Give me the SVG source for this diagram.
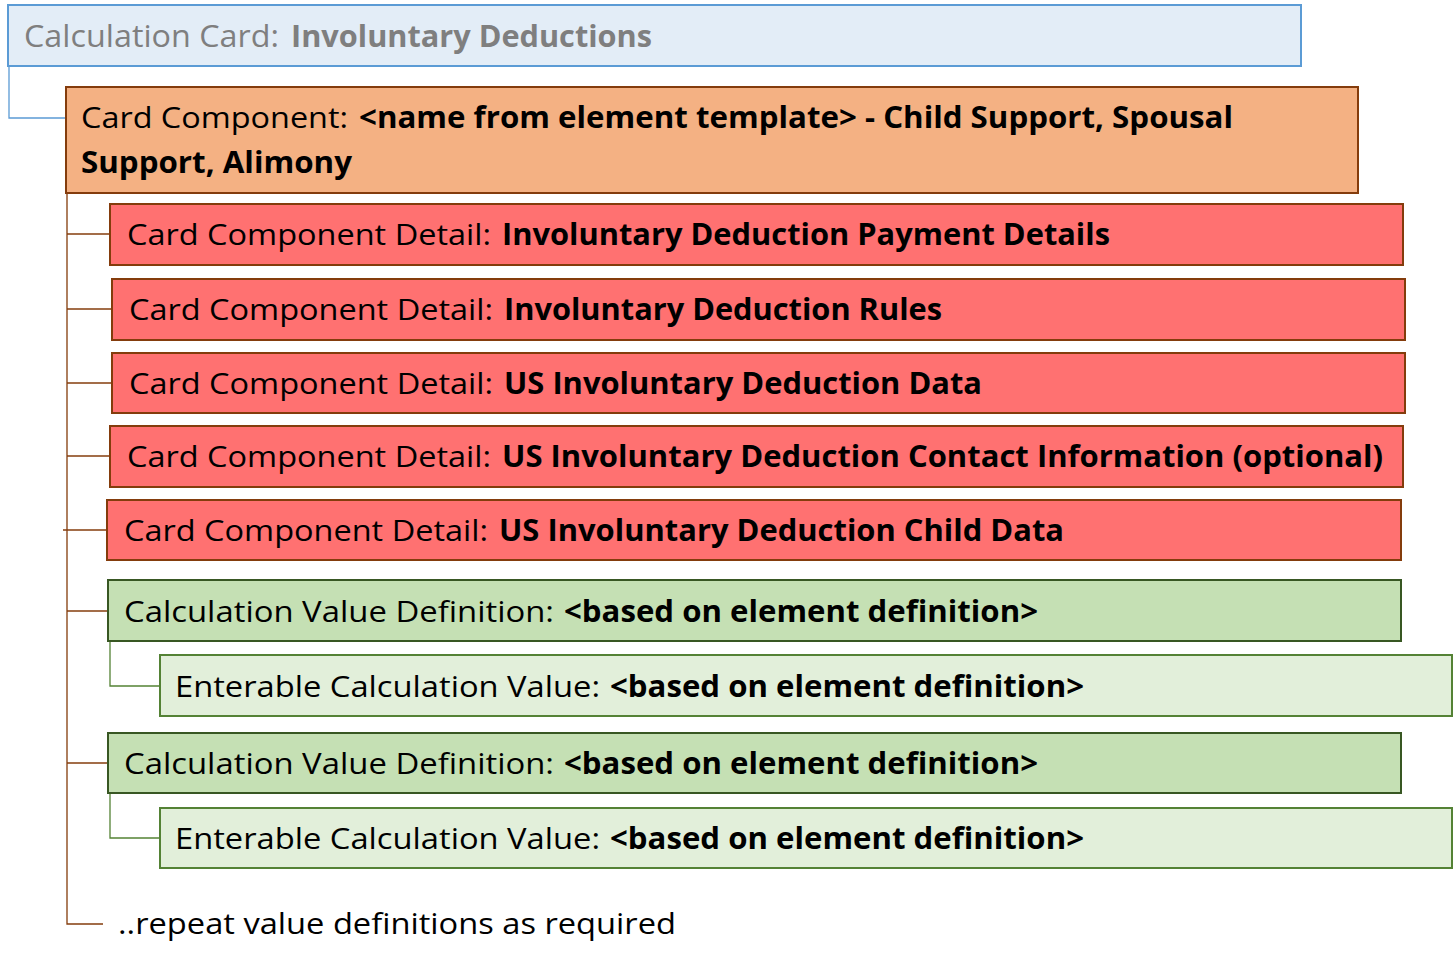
<svg xmlns="http://www.w3.org/2000/svg" width="1453" height="969" viewBox="0 0 1453 969">
<style>
text{font-family:"Open Sans","Noto Sans","Liberation Sans",sans-serif;font-size:30px;fill:#000}
.b{font-weight:bold}
.title{fill:#7F7F7F;font-size:31px}
.card{fill:#E3EDF7;stroke:#5B9BD5;stroke-width:2}
.comp{fill:#F4B183;stroke:#843C0C;stroke-width:2}
.det{fill:#FF7171;stroke:#843C0C;stroke-width:2}
.cvd{fill:#C5E0B4;stroke:#385723;stroke-width:2}
.ecv{fill:#E2EFDA;stroke:#548235;stroke-width:2}
.lb{fill:none;stroke:#843C0C;stroke-width:1.3}
.lg{fill:none;stroke:#548235;stroke-width:1.3}
.lbl{fill:none;stroke:#5B9BD5;stroke-width:1.3}
</style>
<rect width="1453" height="969" fill="#fff"/>
<g id="connectors">
<path class="lbl" d="M9,66 V118 H66"/>
<path class="lb" d="M67,193 V924 H103"/>
<path class="lb" d="M67,234 H110"/>
<path class="lb" d="M67,309 H112"/>
<path class="lb" d="M67,383 H112"/>
<path class="lb" d="M67,456 H110"/>
<path class="lb" d="M63,530 H107"/>
<path class="lb" d="M67,611 H108"/>
<path class="lb" d="M67,763 H108"/>
<path class="lg" d="M110,641 V686 H160"/>
<path class="lg" d="M110,793 V838 H160"/>
</g>
<g id="calc-card">
<rect class="card" x="8" y="5" width="1293" height="61"/>
<text class="title" x="24" y="47" textLength="255" lengthAdjust="spacingAndGlyphs">Calculation Card:</text>
<text class="title b" x="291" y="47" textLength="361" lengthAdjust="spacingAndGlyphs">Involuntary Deductions</text>
</g>
<g id="card-component">
<rect class="comp" x="66" y="87" width="1292" height="106"/>
<text x="81" y="128" textLength="267" lengthAdjust="spacingAndGlyphs">Card Component:</text>
<text class="b" x="359" y="128" textLength="874" lengthAdjust="spacingAndGlyphs">&lt;name from element template&gt; - Child Support, Spousal</text>
<text class="b" x="81" y="173" textLength="271" lengthAdjust="spacingAndGlyphs">Support, Alimony</text>
</g>
<g id="detail-1">
<rect class="det" x="110" y="204" width="1293" height="61"/>
<text x="127" y="245" textLength="364" lengthAdjust="spacingAndGlyphs">Card Component Detail:</text>
<text class="b" x="502" y="245" textLength="608" lengthAdjust="spacingAndGlyphs">Involuntary Deduction Payment Details</text>
</g>
<g id="detail-2">
<rect class="det" x="112" y="279" width="1293" height="61"/>
<text x="129" y="320" textLength="364" lengthAdjust="spacingAndGlyphs">Card Component Detail:</text>
<text class="b" x="504" y="320" textLength="438" lengthAdjust="spacingAndGlyphs">Involuntary Deduction Rules</text>
</g>
<g id="detail-3">
<rect class="det" x="112" y="353" width="1293" height="60"/>
<text x="129" y="394" textLength="364" lengthAdjust="spacingAndGlyphs">Card Component Detail:</text>
<text class="b" x="504" y="394" textLength="478" lengthAdjust="spacingAndGlyphs">US Involuntary Deduction Data</text>
</g>
<g id="detail-4">
<rect class="det" x="110" y="426" width="1293" height="61"/>
<text x="127" y="467" textLength="364" lengthAdjust="spacingAndGlyphs">Card Component Detail:</text>
<text class="b" x="502" y="467" textLength="881" lengthAdjust="spacingAndGlyphs">US Involuntary Deduction Contact Information (optional)</text>
</g>
<g id="detail-5">
<rect class="det" x="107" y="500" width="1294" height="60"/>
<text x="124" y="541" textLength="364" lengthAdjust="spacingAndGlyphs">Card Component Detail:</text>
<text class="b" x="499" y="541" textLength="565" lengthAdjust="spacingAndGlyphs">US Involuntary Deduction Child Data</text>
</g>
<g id="value-def-1">
<rect class="cvd" x="108" y="580" width="1293" height="61"/>
<text x="124" y="622" textLength="430" lengthAdjust="spacingAndGlyphs">Calculation Value Definition:</text>
<text class="b" x="564" y="622" textLength="474" lengthAdjust="spacingAndGlyphs">&lt;based on element definition&gt;</text>
</g>
<g id="enterable-1">
<rect class="ecv" x="160" y="655" width="1292" height="61"/>
<text x="175" y="697" textLength="425" lengthAdjust="spacingAndGlyphs">Enterable Calculation Value:</text>
<text class="b" x="610" y="697" textLength="474" lengthAdjust="spacingAndGlyphs">&lt;based on element definition&gt;</text>
</g>
<g id="value-def-2">
<rect class="cvd" x="108" y="733" width="1293" height="60"/>
<text x="124" y="774" textLength="430" lengthAdjust="spacingAndGlyphs">Calculation Value Definition:</text>
<text class="b" x="564" y="774" textLength="474" lengthAdjust="spacingAndGlyphs">&lt;based on element definition&gt;</text>
</g>
<g id="enterable-2">
<rect class="ecv" x="160" y="808" width="1292" height="60"/>
<text x="175" y="849" textLength="425" lengthAdjust="spacingAndGlyphs">Enterable Calculation Value:</text>
<text class="b" x="610" y="849" textLength="474" lengthAdjust="spacingAndGlyphs">&lt;based on element definition&gt;</text>
</g>
<g id="repeat-note">
<text x="118" y="934" textLength="558" lengthAdjust="spacingAndGlyphs">..repeat value definitions as required</text>
</g>
</svg>
